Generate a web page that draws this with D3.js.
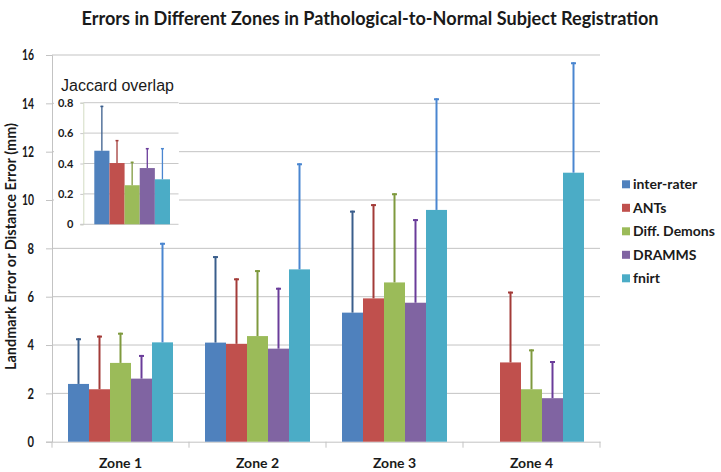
<!DOCTYPE html>
<html><head><meta charset="utf-8">
<script src="https://cdn.jsdelivr.net/npm/d3@7/dist/d3.min.js"></script>
<style>
html,body{margin:0;padding:0;background:#fff;}
svg{display:block;}
</style></head>
<body>
<svg id="chart" width="721" height="472"></svg>
<script>
const zones = ["Zone 1", "Zone 2", "Zone 3", "Zone 4"];
const seriesNames = ["inter-rater", "ANTs", "Diff. Demons", "DRAMMS", "fnirt"];
const seriesColors = ["#4F81BD", "#C0504D", "#9BBB59", "#8064A2", "#4BACC6"];
const errorColors = ["#3A5E8C", "#A33B38", "#7F9A3E", "#6A3C9A", "#4A86D0"];
// means per series across zones (null = no bar)
const interRater = [2.39, 4.10, 5.34, null];
const ants       = [2.17, 4.05, 5.93, 3.28];
const diffDemons = [3.26, 4.37, 6.59, 2.17];
const dramms     = [2.61, 3.85, 5.75, 1.80];
const fnirt      = [4.11, 7.13, 9.59, 11.13];
// upper end of error bars
const interRaterErr = [4.28, 7.68, 9.56, null];
const antsErr       = [4.39, 6.76, 9.83, 6.21];
const diffDemonsErr = [4.51, 7.10, 10.28, 3.82];
const drammsErr     = [3.59, 6.37, 9.21, 3.34];
const fnirtErr      = [8.23, 11.52, 14.21, 15.70];
const yTicks = [0, 2, 4, 6, 8, 10, 12, 14, 16];
// inset: Jaccard overlap
const jaccard    = [0.484, 0.403, 0.257, 0.370, 0.296];
const jaccardErr = [0.78, 0.555, 0.412, 0.502, 0.502];
const insetTicks = [0, 0.2, 0.4, 0.6, 0.8];

(function () {
const means = [interRater, ants, diffDemons, dramms, fnirt];
const errs = [interRaterErr, antsErr, diffDemonsErr, drammsErr, fnirtErr];

const svg = d3.select("#chart");
const calibri = "Lato, 'Open Sans', sans-serif";

// Title
svg.append("text").attr("x", 370).attr("y", 25).attr("text-anchor", "middle")
  .attr("font-family", calibri).attr("font-weight", "bold").attr("font-size", 19.5)
  .attr("fill", "#1a1a1a").attr("textLength", 577).attr("lengthAdjust", "spacingAndGlyphs")
  .text("Errors in Different Zones in Pathological-to-Normal Subject Registration");

const pL = 52, pR = 600, pT = 55, pB = 441.7;
const y = d3.scaleLinear().domain([0, 16]).range([pB, pT]);
const x0 = d3.scaleBand().domain(zones).range([pL, pR]);
const bw = x0.bandwidth();
const x1 = d3.scaleBand().domain(seriesNames).range([16, bw - 16]);

// gridlines
svg.append("g").selectAll("line").data(yTicks.filter(d => d > 0)).join("line")
  .attr("x1", pL).attr("x2", pR).attr("y1", d => y(d)).attr("y2", d => y(d))
  .attr("stroke", "#c3c3c3").attr("stroke-width", 1);

// y axis
const yAxis = d3.axisLeft(y).tickValues(yTicks).tickSize(6).tickPadding(12);
const gy = svg.append("g").attr("transform", `translate(${pL},0)`).call(yAxis);
gy.select(".domain").attr("stroke", "#c3c3c3");
gy.selectAll(".tick line").attr("stroke", "#c3c3c3");
gy.selectAll(".tick text").attr("font-family", calibri).attr("font-weight", "bold")
  .attr("font-size", 15).attr("fill", "#1a1a1a")
  .attr("textLength", d => d >= 10 ? 12 : 6.5).attr("lengthAdjust", "spacingAndGlyphs");

// x axis
const gx = svg.append("g").attr("transform", `translate(0,${pB})`)
  .call(d3.axisBottom(x0).tickSize(0).tickPadding(16));
gx.select(".domain").attr("stroke", "#c3c3c3");
gx.selectAll(".tick text").attr("font-family", calibri).attr("font-weight", "bold")
  .attr("font-size", 14).attr("fill", "#1a1a1a");
const bounds = zones.map(z => x0(z)).concat([pR]);
svg.append("g").selectAll("line").data(bounds).join("line")
  .attr("x1", d => d).attr("x2", d => d).attr("y1", pB).attr("y2", pB + 6)
  .attr("stroke", "#c3c3c3");

// y-axis title
svg.append("text").attr("transform", "translate(16,246.5) rotate(-90)")
  .attr("text-anchor", "middle").attr("font-family", calibri).attr("font-weight", "bold")
  .attr("font-size", 15).attr("fill", "#1a1a1a").attr("textLength", 247)
  .attr("lengthAdjust", "spacingAndGlyphs")
  .text("Landmark Error or Distance Error (mm)");

// bars
const barData = [];
seriesNames.forEach((s, si) => zones.forEach((z, zi) => {
  if (means[si][zi] != null) barData.push({s, si, z, v: means[si][zi], e: errs[si][zi]});
}));
const gb = svg.append("g");
gb.selectAll("rect").data(barData).join("rect")
  .attr("x", d => x0(d.z) + x1(d.s)).attr("width", x1.bandwidth())
  .attr("y", d => y(d.v)).attr("height", d => y(0) - y(d.v))
  .attr("fill", d => seriesColors[d.si]);
gb.selectAll("line.err").data(barData).join("line").attr("class", "err")
  .attr("x1", d => x0(d.z) + x1(d.s) + x1.bandwidth() / 2)
  .attr("x2", d => x0(d.z) + x1(d.s) + x1.bandwidth() / 2)
  .attr("y1", d => y(d.v)).attr("y2", d => y(d.e))
  .attr("stroke", d => errorColors[d.si]).attr("stroke-width", 2);
gb.selectAll("line.cap").data(barData).join("line").attr("class", "cap")
  .attr("x1", d => x0(d.z) + x1(d.s) + x1.bandwidth() / 2 - 2.5)
  .attr("x2", d => x0(d.z) + x1(d.s) + x1.bandwidth() / 2 + 2.5)
  .attr("y1", d => y(d.e) + 1).attr("y2", d => y(d.e) + 1)
  .attr("stroke", d => errorColors[d.si]).attr("stroke-width", 2);

// legend
const lg = svg.append("g").attr("transform", "translate(622,184.3)");
const li = lg.selectAll("g").data(seriesNames).join("g")
  .attr("transform", (d, i) => `translate(0,${i * 23.5})`);
li.append("rect").attr("x", 0).attr("y", -4).attr("width", 8).attr("height", 8)
  .attr("fill", (d, i) => seriesColors[i]);
li.append("text").attr("x", 11).attr("y", 5).attr("font-family", calibri)
  .attr("font-weight", "bold").attr("font-size", 14).attr("fill", "#1a1a1a").text(d => d);

// inset
const inset = svg.append("g");
inset.append("rect").attr("x", 54).attr("y", 63).attr("width", 125).attr("height", 171).attr("fill", "#fff");
const iy = d3.scaleLinear().domain([0, 0.8]).range([224.3, 102.7]);
const ix = d3.scaleBand().domain(seriesNames).range([94.3, 170]);
const iLeft = 83.3, iRight = 178.5;
inset.append("g").selectAll("line").data(insetTicks.filter(d => d > 0)).join("line")
  .attr("x1", iLeft).attr("x2", iRight).attr("y1", d => iy(d)).attr("y2", d => iy(d))
  .attr("stroke", "#c8c8c8");
const giy = inset.append("g").attr("transform", `translate(${iLeft},0)`)
  .call(d3.axisLeft(iy).tickValues(insetTicks).tickSize(3).tickPadding(7).tickFormat(d => d === 0 ? "0" : d3.format(".1f")(d)));
giy.select(".domain").attr("stroke", "#d3dcc4");
giy.selectAll(".tick line").attr("stroke", "#c8c8c8");
giy.selectAll(".tick text").attr("font-family", calibri).attr("font-weight", "bold")
  .attr("font-size", 11).attr("fill", "#1a1a1a");
inset.append("line").attr("x1", iLeft - 3).attr("x2", iRight).attr("y1", iy(0)).attr("y2", iy(0))
  .attr("stroke", "#c8c8c8");
inset.append("text").attr("x", 61).attr("y", 91).attr("font-family", "'Liberation Sans', Arial, sans-serif")
  .attr("font-size", 16).attr("fill", "#1a1a1a").text("Jaccard overlap");
const iData = seriesNames.map((s, si) => ({s, si, v: jaccard[si], e: jaccardErr[si]}));
inset.selectAll("rect.ib").data(iData).join("rect").attr("class", "ib")
  .attr("x", d => ix(d.s)).attr("width", ix.bandwidth())
  .attr("y", d => iy(d.v)).attr("height", d => iy(0) - iy(d.v))
  .attr("fill", d => seriesColors[d.si]);
inset.selectAll("line.ie").data(iData).join("line").attr("class", "ie")
  .attr("x1", d => ix(d.s) + ix.bandwidth() / 2).attr("x2", d => ix(d.s) + ix.bandwidth() / 2)
  .attr("y1", d => iy(d.v)).attr("y2", d => iy(d.e))
  .attr("stroke", d => errorColors[d.si]).attr("stroke-width", 1.3);
inset.selectAll("line.ic").data(iData).join("line").attr("class", "ic")
  .attr("x1", d => ix(d.s) + ix.bandwidth() / 2 - 1.5).attr("x2", d => ix(d.s) + ix.bandwidth() / 2 + 1.5)
  .attr("y1", d => iy(d.e) + 0.7).attr("y2", d => iy(d.e) + 0.7)
  .attr("stroke", d => errorColors[d.si]).attr("stroke-width", 1.5);
})();
</script>
</body></html>
